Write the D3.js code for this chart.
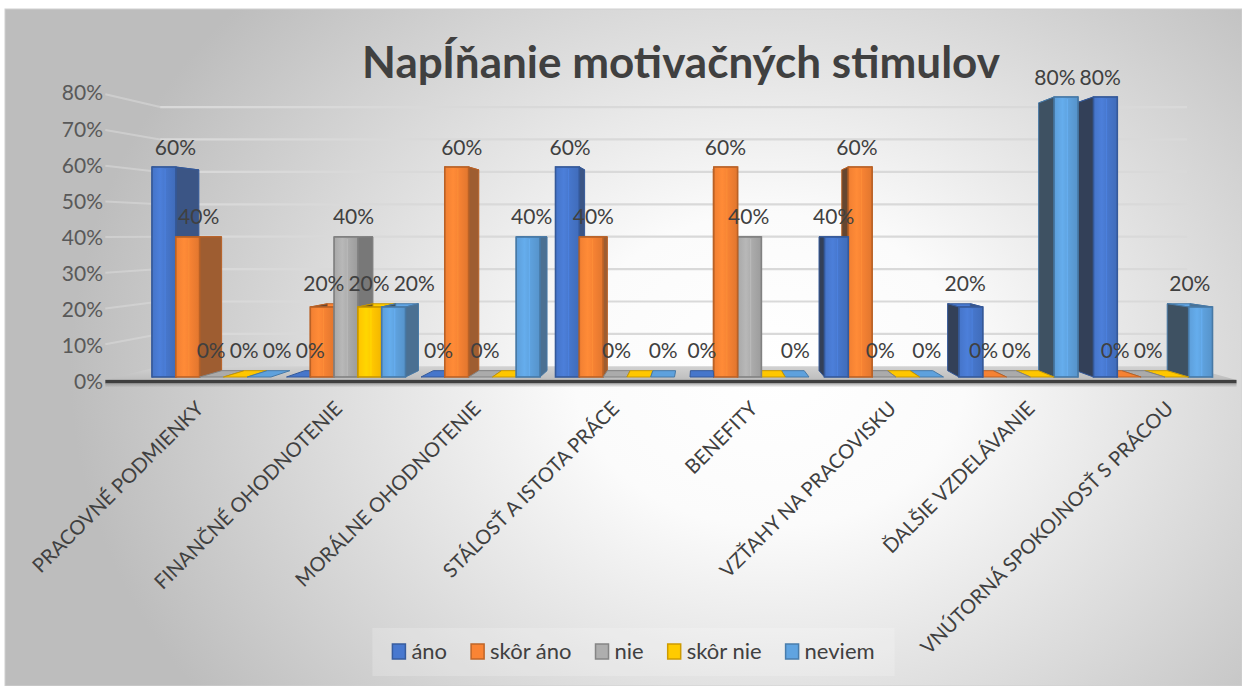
<!DOCTYPE html>
<html><head><meta charset="utf-8">
<script src="https://cdn.jsdelivr.net/npm/d3@7"></script>
<style>html,body{margin:0;padding:0;background:#fff;} svg{display:block;}</style>
</head><body><svg id="c" width="1242" height="686"></svg>
<script>
// ---------------- data ----------------
const titleText = "NapÍňanie motivačných stimulov";
const categories = ["PRACOVNÉ PODMIENKY","FINANČNÉ OHODNOTENIE","MORÁLNE OHODNOTENIE","STÁLOSŤ A ISTOTA PRÁCE","BENEFITY","VZŤAHY NA PRACOVISKU","ĎALŠIE VZDELÁVANIE","VNÚTORNÁ SPOKOJNOSŤ S PRÁCOU"];
const seriesNames = ["áno","skôr áno","nie","skôr nie","neviem"];
const ano     = [0.6, 0.0, 0.0, 0.6, 0.0, 0.4, 0.2, 0.8];
const skorAno = [0.4, 0.2, 0.6, 0.4, 0.6, 0.6, 0.0, 0.0];
const nie     = [0.0, 0.4, 0.0, 0.0, 0.4, 0.0, 0.0, 0.0];
const skorNie = [0.0, 0.2, 0.0, 0.0, 0.0, 0.0, 0.0, 0.0];
const neviem  = [0.0, 0.2, 0.4, 0.0, 0.0, 0.0, 0.8, 0.2];
const skorNieLabelShown = [true, true, false, false, false, false, false, false];
const yTicks = [0, 0.1, 0.2, 0.3, 0.4, 0.5, 0.6, 0.7, 0.8];
const seriesColors = ["#4472C4", "#ED7D31", "#A5A5A5", "#FFC000", "#5B9BD5"];

// ---------------- layout ----------------
const W = 1242, H = 686;
const svg = d3.select("#c");
const defs = svg.append("defs");
const FONT = "Lato, 'Open Sans', sans-serif";

const values = [ano, skorAno, nie, skorNie, neviem];
const labelShown = [ano.map(()=>true), skorAno.map(()=>true), nie.map(()=>true), skorNieLabelShown, neviem.map(()=>true)];

// perspective
const VX = 700, VY = 233;
const S_BACK = 0.956, S_WALL = 0.926, S_LABEL = 1.03, S_FF = 1.02;
const P = (x, y, s) => [VX + (x - VX) * s, VY + (y - VY) * s];

const x = d3.scaleBand().domain(categories).range([144.25, 1220.25]).padding(0);
const xs = d3.scaleBand().domain(seriesNames).range([7.75, x.bandwidth() - 7.75]).padding(0);
const y = d3.scaleLinear().domain([0, 0.8]).range([377, 97]);
const fmt = d3.format(".0%");
const floorL = 117, floorR = 1226;

// background
const bg = defs.append("radialGradient").attr("id", "bg")
  .attr("gradientUnits", "userSpaceOnUse")
  .attr("cx", 770).attr("cy", 370).attr("r", 700)
  .attr("gradientTransform", "translate(770,370) scale(1,0.8) translate(-770,-370)");
bg.append("stop").attr("offset", "0").attr("stop-color", "#ffffff");
bg.append("stop").attr("offset", "0.28").attr("stop-color", "#fbfbfb");
bg.append("stop").attr("offset", "1").attr("stop-color", "#bdbdbd");
svg.append("rect").attr("x", 0).attr("y", 0).attr("width", W).attr("height", H).attr("fill", "#ffffff");
svg.append("rect").attr("x", 5).attr("y", 9).attr("width", W - 5).attr("height", H - 9)
  .attr("fill", "url(#bg)").attr("stroke", "#d0d0d0").attr("stroke-width", 1);

// title
svg.append("text").attr("x", 681).attr("y", 78).attr("text-anchor", "middle")
  .attr("font-family", FONT).attr("font-weight", "bold").attr("font-size", 44)
  .attr("fill", "#404040").text(titleText);

// gridlines (back wall + left wall)
const grid = svg.append("g");
yTicks.filter(t => t > 0).forEach(t => {
  const a = P(floorL, y(t), S_FF), b = P(floorL, y(t), S_WALL), c = P(floorR, y(t), S_WALL);
  grid.append("line").attr("x1", a[0]).attr("y1", a[1]).attr("x2", b[0]).attr("y2", b[1])
    .attr("stroke", "#d9d9d9").attr("stroke-width", 2).attr("opacity", 0.6);
  grid.append("line").attr("x1", b[0]).attr("y1", b[1]).attr("x2", c[0]).attr("y2", c[1])
    .attr("stroke", "#d9d9d9").attr("stroke-width", 2.2);
});

// floor
const fl = defs.append("linearGradient").attr("id", "floor").attr("x1", 0).attr("y1", 0).attr("x2", 0).attr("y2", 1);
fl.append("stop").attr("offset", "0").attr("stop-color", "#d2d2d2");
fl.append("stop").attr("offset", "1").attr("stop-color", "#bdbdbd");
const f1 = P(floorL, y(0), S_FF), f2 = P(floorR, y(0), S_FF), f3 = P(floorR, y(0), S_WALL), f4 = P(floorL, y(0), S_WALL);
svg.append("polygon").attr("points", [f1, f2, f3, f4].map(p => p.join(",")).join(" ")).attr("fill", "url(#floor)");
svg.append("rect").attr("x", f1[0]).attr("y", f1[1]).attr("width", f2[0] - f1[0]).attr("height", 3.5).attr("fill", "#3f3f3f");
const sh = defs.append("linearGradient").attr("id", "shadow").attr("x1", 0).attr("y1", 0).attr("x2", 0).attr("y2", 1);
sh.append("stop").attr("offset", "0").attr("stop-color", "#8a8a8a").attr("stop-opacity", 0.7);
sh.append("stop").attr("offset", "1").attr("stop-color", "#8a8a8a").attr("stop-opacity", 0);
svg.append("rect").attr("x", f1[0]).attr("y", f1[1] + 3.5).attr("width", f2[0] - f1[0]).attr("height", 4).attr("fill", "url(#shadow)");

// y axis labels
const yAxisG = svg.append("g");
yTicks.forEach(t => {
  const p = P(floorL, y(t), S_LABEL);
  yAxisG.append("text").attr("x", 103).attr("y", p[1]).attr("dy", "0.36em")
    .attr("text-anchor", "end").attr("font-family", FONT).attr("font-size", 21)
    .attr("fill", "#595959").text(fmt(t));
});

// front face gradients
seriesColors.forEach((c, j) => {
  const base = d3.color(c);
  const g = defs.append("linearGradient").attr("id", "front" + j).attr("x1", 0).attr("y1", 0).attr("x2", 1).attr("y2", 0);
  g.append("stop").attr("offset", "0").attr("stop-color", base.brighter(0.05));
  g.append("stop").attr("offset", "0.35").attr("stop-color", base.brighter(0.3));
  g.append("stop").attr("offset", "0.6").attr("stop-color", base.brighter(0.1));
  g.append("stop").attr("offset", "1").attr("stop-color", base.darker(0.15));
});

// bars
const bars = [];
categories.forEach((cat, i) => {
  seriesNames.forEach((s, j) => {
    const v = values[j][i];
    const x0 = x(cat) + xs(s), x1 = x0 + xs.bandwidth();
    bars.push({ i, j, v, x0, x1, cx: (x0 + x1) / 2 });
  });
});
bars.sort((a, b) => Math.abs(b.cx - VX) - Math.abs(a.cx - VX));

const barG = svg.append("g");
const pts = arr => arr.map(p => p.join(",")).join(" ");
bars.forEach(b => {
  const base = d3.color(seriesColors[b.j]);
  const stroke = base.darker(0.7);
  const yt = y(b.v), yb = y(0);
  const ft0 = [b.x0, yt], ft1 = [b.x1, yt], fb0 = [b.x0, yb], fb1 = [b.x1, yb];
  const bt0 = P(b.x0, yt, S_BACK), bt1 = P(b.x1, yt, S_BACK), bb0 = P(b.x0, yb, S_BACK), bb1 = P(b.x1, yb, S_BACK);
  const g = barG.append("g");
  g.append("polygon").attr("points", pts([ft0, ft1, bt1, bt0]))
    .attr("fill", b.v === 0 ? base.brighter(0.1) : base.brighter(0.2)).attr("stroke", stroke).attr("stroke-width", 1);
  if (b.v > 0) {
    const hl = d3.hsl(base.darker(1.8)); hl.s *= 0.55;
    const hr = d3.hsl(base.darker(0.9)); hr.s *= 0.8;
    g.append("polygon").attr("points", pts([ft0, bt0, bb0, fb0]))
      .attr("fill", hl.formatHex()).attr("stroke", stroke).attr("stroke-width", 1);
    g.append("polygon").attr("points", pts([ft1, bt1, bb1, fb1]))
      .attr("fill", hr.formatHex()).attr("stroke", stroke).attr("stroke-width", 1);
    g.append("rect").attr("x", b.x0).attr("y", yt).attr("width", b.x1 - b.x0).attr("height", yb - yt)
      .attr("fill", "url(#front" + b.j + ")").attr("stroke", stroke).attr("stroke-width", 1.6);
    g.append("line").attr("x1", b.x0 + (b.x1 - b.x0) * 0.55).attr("x2", b.x0 + (b.x1 - b.x0) * 0.55)
      .attr("y1", yt + 2).attr("y2", yb - 1).attr("stroke", base.brighter(0.5)).attr("stroke-width", 1).attr("opacity", 0.6);
  }
  b.labelX = (Math.min(b.x0, bt0[0]) + Math.max(b.x1, bt1[0])) / 2;
  b.labelY = Math.min(yt, bt0[1]) - 20;
});

// data labels, spread horizontally where neighbours in one row would collide
const lab = svg.append("g");
const labels = [];
bars.forEach(b => {
  if (!labelShown[b.j][b.i]) return;
  const t = lab.append("text").attr("y", b.labelY).attr("dy", "0.36em")
    .attr("text-anchor", "middle").attr("font-family", FONT).attr("font-size", 21)
    .attr("fill", "#404040").text(fmt(b.v));
  labels.push({ t, want: b.labelX, w: t.node().getComputedTextLength(), row: Math.round(b.labelY) });
});
const LGAP = 4;
d3.groups(labels, d => d.row).forEach(([row, items]) => {
  items.sort((a, b) => a.want - b.want);
  let clusters = items.map(d => ({ items: [d] }));
  const place = c => {
    const mean = d3.mean(c.items, d => d.want);
    const tot = d3.sum(c.items, d => d.w) + LGAP * (c.items.length - 1);
    let cx = mean - tot / 2;
    c.items.forEach(d => { d.x = cx + d.w / 2; cx += d.w + LGAP; });
    c.left = mean - tot / 2; c.right = mean + tot / 2;
  };
  clusters.forEach(place);
  let merged = true;
  while (merged) {
    merged = false;
    for (let k = 0; k < clusters.length - 1; k++) {
      if (clusters[k].right + LGAP > clusters[k + 1].left) {
        clusters[k].items = clusters[k].items.concat(clusters[k + 1].items);
        clusters.splice(k + 1, 1);
        place(clusters[k]);
        merged = true;
        break;
      }
    }
  }
  items.forEach(d => d.t.attr("x", d.x));
});

// legend
const legG = svg.append("g");
const legBg = legG.append("rect").attr("fill", "#ffffff").attr("opacity", 0.2);
const items = [];
seriesNames.forEach((s, j) => {
  const it = legG.append("g");
  it.append("rect").attr("x", 0).attr("y", -8).attr("width", 13).attr("height", 15)
    .attr("fill", d3.color(seriesColors[j]).brighter(0.15)).attr("stroke", d3.color(seriesColors[j]).darker(0.6)).attr("stroke-width", 1.5);
  const t = it.append("text").attr("x", 19).attr("y", 0).attr("dy", "0.33em")
    .attr("font-family", FONT).attr("font-size", 22).attr("fill", "#404040").text(s);
  const w = 19 + t.node().getComputedTextLength();
  items.push({ it, w });
});
const gap = 24;
const total = d3.sum(items, d => d.w) + gap * (items.length - 1);
let cur = 633.5 - total / 2;
items.forEach(d => { d.it.attr("transform", `translate(${cur},652)`); cur += d.w + gap; });
legBg.attr("x", 633.5 - total / 2 - 20).attr("y", 628).attr("width", total + 40).attr("height", 48);

// category labels
const catG = svg.append("g");
categories.forEach(cat => {
  const p = P(x(cat) + x.bandwidth() / 2, y(0), S_LABEL);
  catG.append("text").attr("transform", `translate(${p[0] + 3},${405}) rotate(-45)`)
    .attr("text-anchor", "end").attr("dy", "0.35em")
    .attr("font-family", FONT).attr("font-size", 20).attr("fill", "#404040").text(cat);
});
</script></body></html>
